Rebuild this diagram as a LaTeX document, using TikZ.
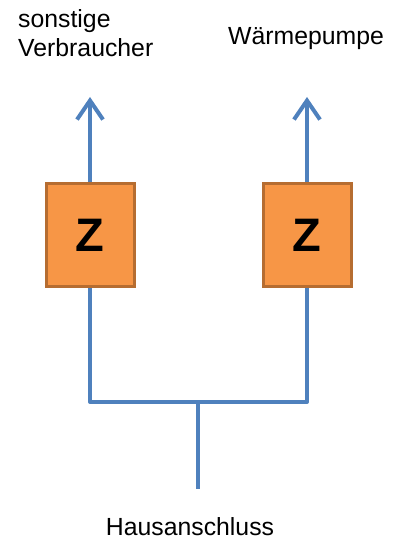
\documentclass[tikz,border=0pt]{standalone}
\usepackage{fontspec}
\setmainfont{Liberation Sans}
\usetikzlibrary{arrows.meta}
\definecolor{lineblue}{HTML}{4F81BD}
\definecolor{boxfill}{HTML}{F79646}
\definecolor{boxdraw}{HTML}{B66D31}
\begin{document}
\begin{tikzpicture}[x=1pt,y=-1pt,
  meter/.style={draw=boxdraw,line width=3pt,fill=boxfill,minimum width=88pt,minimum height=102pt,inner sep=0pt,font=\fontsize{47}{50}\selectfont\bfseries},
  pipe/.style={draw=lineblue,line width=4pt},
  lbl/.style={font=\fontsize{24.8}{29}\selectfont,inner sep=0pt}]
\useasboundingbox (0,0) rectangle (395,545);
\node[meter] (z1) at (90,235) {Z};
\node[meter] (z2) at (307,235) {Z};
\coordinate (t1) at (90,97);
\coordinate (t2) at (307,97);
\coordinate (j) at (198,402);
\coordinate (src) at (198,489);
\node[lbl,align=left,anchor=north west] (n1) at (18,9) {sonstige\\Verbraucher};
\node[lbl,anchor=north] (n2) at (306,27) {Wärmepumpe};
\node[lbl,anchor=north] (n3) at (190,517) {Hausanschluss};
\draw[pipe,-{Straight Barb[length=19pt,width=26pt,line width=4pt]}] (z1.north) -- (t1);
\draw[pipe,-{Straight Barb[length=19pt,width=26pt,line width=4pt]}] (z2.north) -- (t2);
\draw[pipe,line join=round] (z1.south) |- (j) -| (z2.south);
\draw[pipe] (j) -- (src);
\end{tikzpicture}
\end{document}
